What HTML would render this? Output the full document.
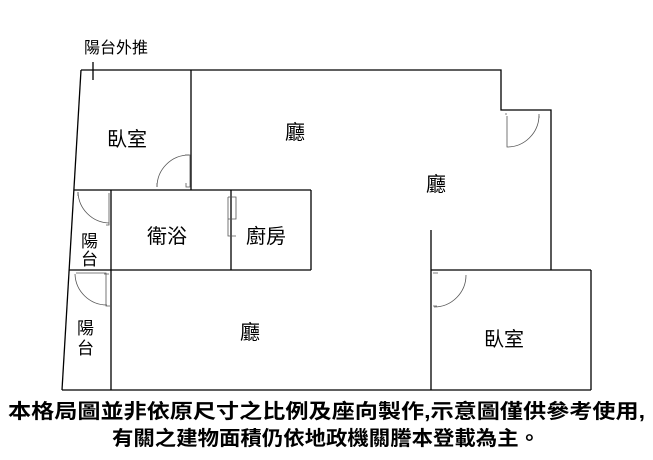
<!DOCTYPE html>
<html><head><meta charset="utf-8"><style>
body{margin:0;background:#fff;}
svg{display:block}
text{font-family:"Liberation Sans","Noto Sans CJK TC",sans-serif;fill:#000}
</style></head><body>
<svg width="653" height="460" viewBox="0 0 653 460" xmlns="http://www.w3.org/2000/svg">
<g stroke="#000" stroke-width="1.3" fill="none">
<polyline points="81,70 501,70 501,110 551,110 551,270"/>
<line x1="81" y1="70" x2="62" y2="390"/>
<line x1="62" y1="390" x2="591" y2="390"/>
<line x1="191" y1="70" x2="191" y2="190"/>
<line x1="74" y1="190" x2="311" y2="190"/>
<line x1="311" y1="190" x2="311" y2="270"/>
<line x1="111" y1="190" x2="111" y2="390"/>
<line x1="231" y1="190" x2="231" y2="270"/>
<line x1="69" y1="270" x2="311" y2="270"/>
<line x1="431" y1="230" x2="431" y2="390"/>
<line x1="431" y1="270" x2="591" y2="270"/>
<line x1="591" y1="270" x2="591" y2="390"/>
<line x1="93" y1="62" x2="93" y2="80"/>
</g>
<g stroke="#555" stroke-width="0.8" fill="none">
<path d="M157,187 A32,32 0 0 1 189,155"/>
<path d="M157,187 L157,183 M185,155 L190,155 L190,187 L186,187 L186,183"/>
<path d="M78,192 A32,32 0 0 0 109,223"/>
<path d="M78,192 L78,196 M109,193 L109,225 L106,225"/>
<path d="M507,116 L507,147 A32,32 0 0 0 539,116"/>
<path d="M505,114 L507,114 M539,114 L539,118"/>
<path d="M434,307 A32,32 0 0 0 466,275"/>
<path d="M433,273 L438,273 M433,306 L437,306"/>
<path d="M75,274 A32,32 0 0 0 107,305"/>
<path d="M76,273 L106,273 L106,306 L110,306 M104,274 L109,274"/>
<path d="M228,197 L236,197 L236,219 L228,219 L228,236 L236,236 M228,197 L228,219"/>
</g>
<g font-size="20">
<text x="107" y="146">臥室</text>
<text x="285" y="139">廳</text>
<text x="426" y="191">廳</text>
<text x="147" y="243">衛浴</text>
<text x="246" y="243">廚房</text>
<text x="240" y="339">廳</text>
<text x="484" y="346">臥室</text>
</g>
<g font-size="17">
<text x="81" y="247">陽</text>
<text x="81" y="265">台</text>
<text x="77" y="334">陽</text>
<text x="77" y="354">台</text>
<text x="84" y="53" font-size="16">陽台外推</text>
</g>
<g font-size="20" font-weight="bold">
<text x="8" y="418" textLength="637" lengthAdjust="spacingAndGlyphs">本格局圖並非依原尺寸之比例及座向製作,示意圖僅供參考使用,</text>
<text x="112" y="445" textLength="428" lengthAdjust="spacingAndGlyphs">有關之建物面積仍依地政機關謄本登載為主。</text>
</g>
</svg>
</body></html>
